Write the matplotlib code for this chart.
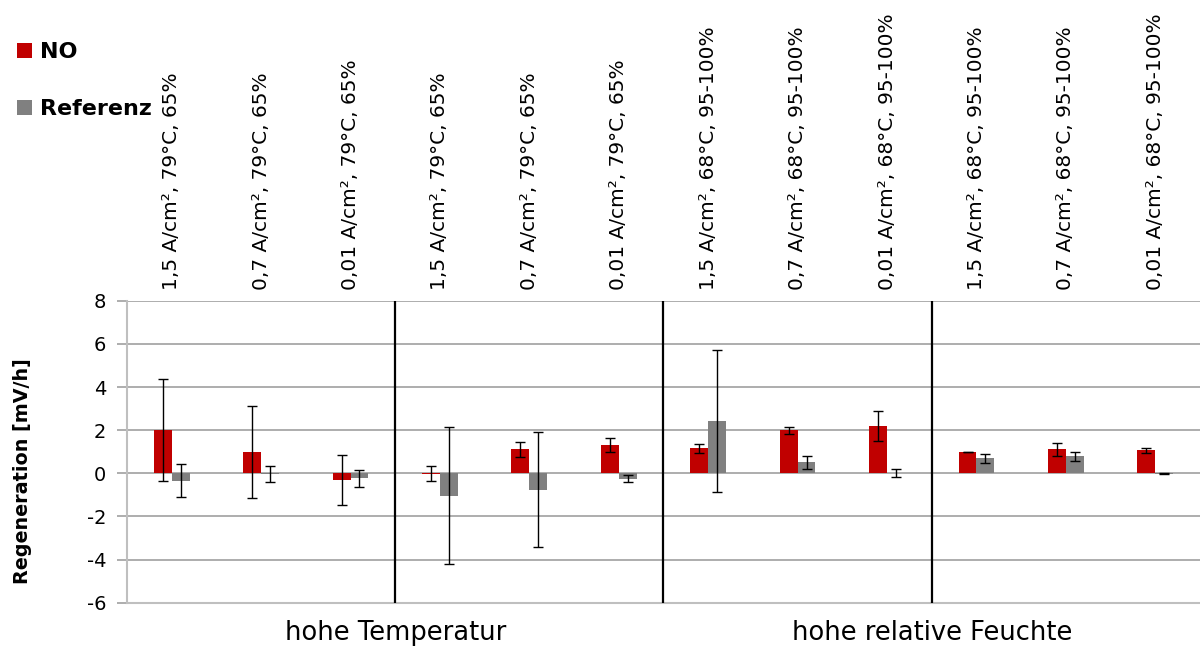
import matplotlib
matplotlib.use("Agg")
import matplotlib.pyplot as plt
import numpy as np

plt.rcParams['font.family'] = ['DejaVu Sans']

categories = [
    "1,5 A/cm², 79°C, 65%", "0,7 A/cm², 79°C, 65%", "0,01 A/cm², 79°C, 65%",
    "1,5 A/cm², 79°C, 65%", "0,7 A/cm², 79°C, 65%", "0,01 A/cm², 79°C, 65%",
    "1,5 A/cm², 68°C, 95-100%", "0,7 A/cm², 68°C, 95-100%", "0,01 A/cm², 68°C, 95-100%",
    "1,5 A/cm², 68°C, 95-100%", "0,7 A/cm², 68°C, 95-100%", "0,01 A/cm², 68°C, 95-100%",
]
groups = ["hohe Temperatur", "hohe relative Feuchte"]

no_values = [2.0, 0.97, -0.31, -0.02, 1.11, 1.30, 1.16, 1.99, 2.20, 0.99, 1.11, 1.06]
no_errors = [2.35, 2.13, 1.15, 0.35, 0.34, 0.33, 0.21, 0.17, 0.69, 0.02, 0.30, 0.12]
ref_values = [-0.35, -0.05, -0.24, -1.04, -0.77, -0.25, 2.41, 0.51, 0.02, 0.70, 0.80, -0.02]
ref_errors = [0.77, 0.37, 0.41, 3.17, 2.67, 0.16, 3.30, 0.30, 0.20, 0.20, 0.21, 0.03]

yticks = [-6, -4, -2, 0, 2, 4, 6, 8]

RED = "#C00000"
GREY = "#808080"

fig = plt.figure(figsize=(12, 6.48), dpi=100)
ax = fig.add_axes([0.1058, 0.0699, 0.8942, 0.466])

x = np.arange(len(categories))
w = 0.2
err_kw = dict(ecolor="black", elinewidth=1.0, capsize=3.6, capthick=1.0)
b_no = ax.bar(x - w / 2, no_values, w, color=RED, yerr=no_errors,
              error_kw=err_kw, label="NO", zorder=3)
b_ref = ax.bar(x + w / 2, ref_values, w, color=GREY, yerr=ref_errors,
               error_kw=err_kw, label="Referenz", zorder=3)

ax.set_xlim(-0.5, len(categories) - 0.5)
ax.set_ylim(-6, 8)
ax.set_yticks(yticks)
ax.set_yticklabels([str(t) for t in yticks], fontsize=14)
ax.tick_params(axis="y", length=7, color="#A0A0A0", width=1.2, pad=8)
ax.set_xticks([])
ax.grid(axis="y", color="#A0A0A0", linewidth=1.2, zorder=0)
for side in ("top", "right"):
    ax.spines[side].set_visible(False)
ax.spines["left"].set_color("#BFBFBF")
ax.spines["left"].set_linewidth(1.5)
ax.spines["bottom"].set_color("#BFBFBF")
ax.spines["bottom"].set_linewidth(1.5)

# separators between condition blocks
for b in (2.5, 5.5, 8.5):
    ax.axvline(b, color="black", linewidth=1.6, zorder=4)

# rotated category labels above the plot
for xi, lab in zip(x, categories):
    ax.annotate(lab, xy=(xi, 1.0), xycoords=("data", "axes fraction"),
                xytext=(0, 8), textcoords="offset points",
                rotation=90, ha="center", va="bottom", fontsize=14.5)

# group labels below the plot
for gi, g in enumerate(groups):
    ax.annotate(g, xy=(gi * 6 + 2.5, 0.0), xycoords=("data", "axes fraction"),
                xytext=(0, -22), textcoords="offset points",
                ha="center", va="center", fontsize=18.5)

fig.text(0.019, 1 - 471 / 648, "Regeneration [mV/h]", rotation=90,
         ha="center", va="center", fontsize=13.8, fontweight="bold")

fig.legend(handles=[b_no, b_ref], loc="upper left",
           bbox_to_anchor=(0.014, 0.935), frameon=False,
           borderpad=0, borderaxespad=0,
           prop=dict(size=16, weight="bold"), handlelength=0.68,
           handleheight=0.68, handletextpad=0.36, labelspacing=1.67)

fig.savefig("out.png", dpi=100, facecolor="white")
